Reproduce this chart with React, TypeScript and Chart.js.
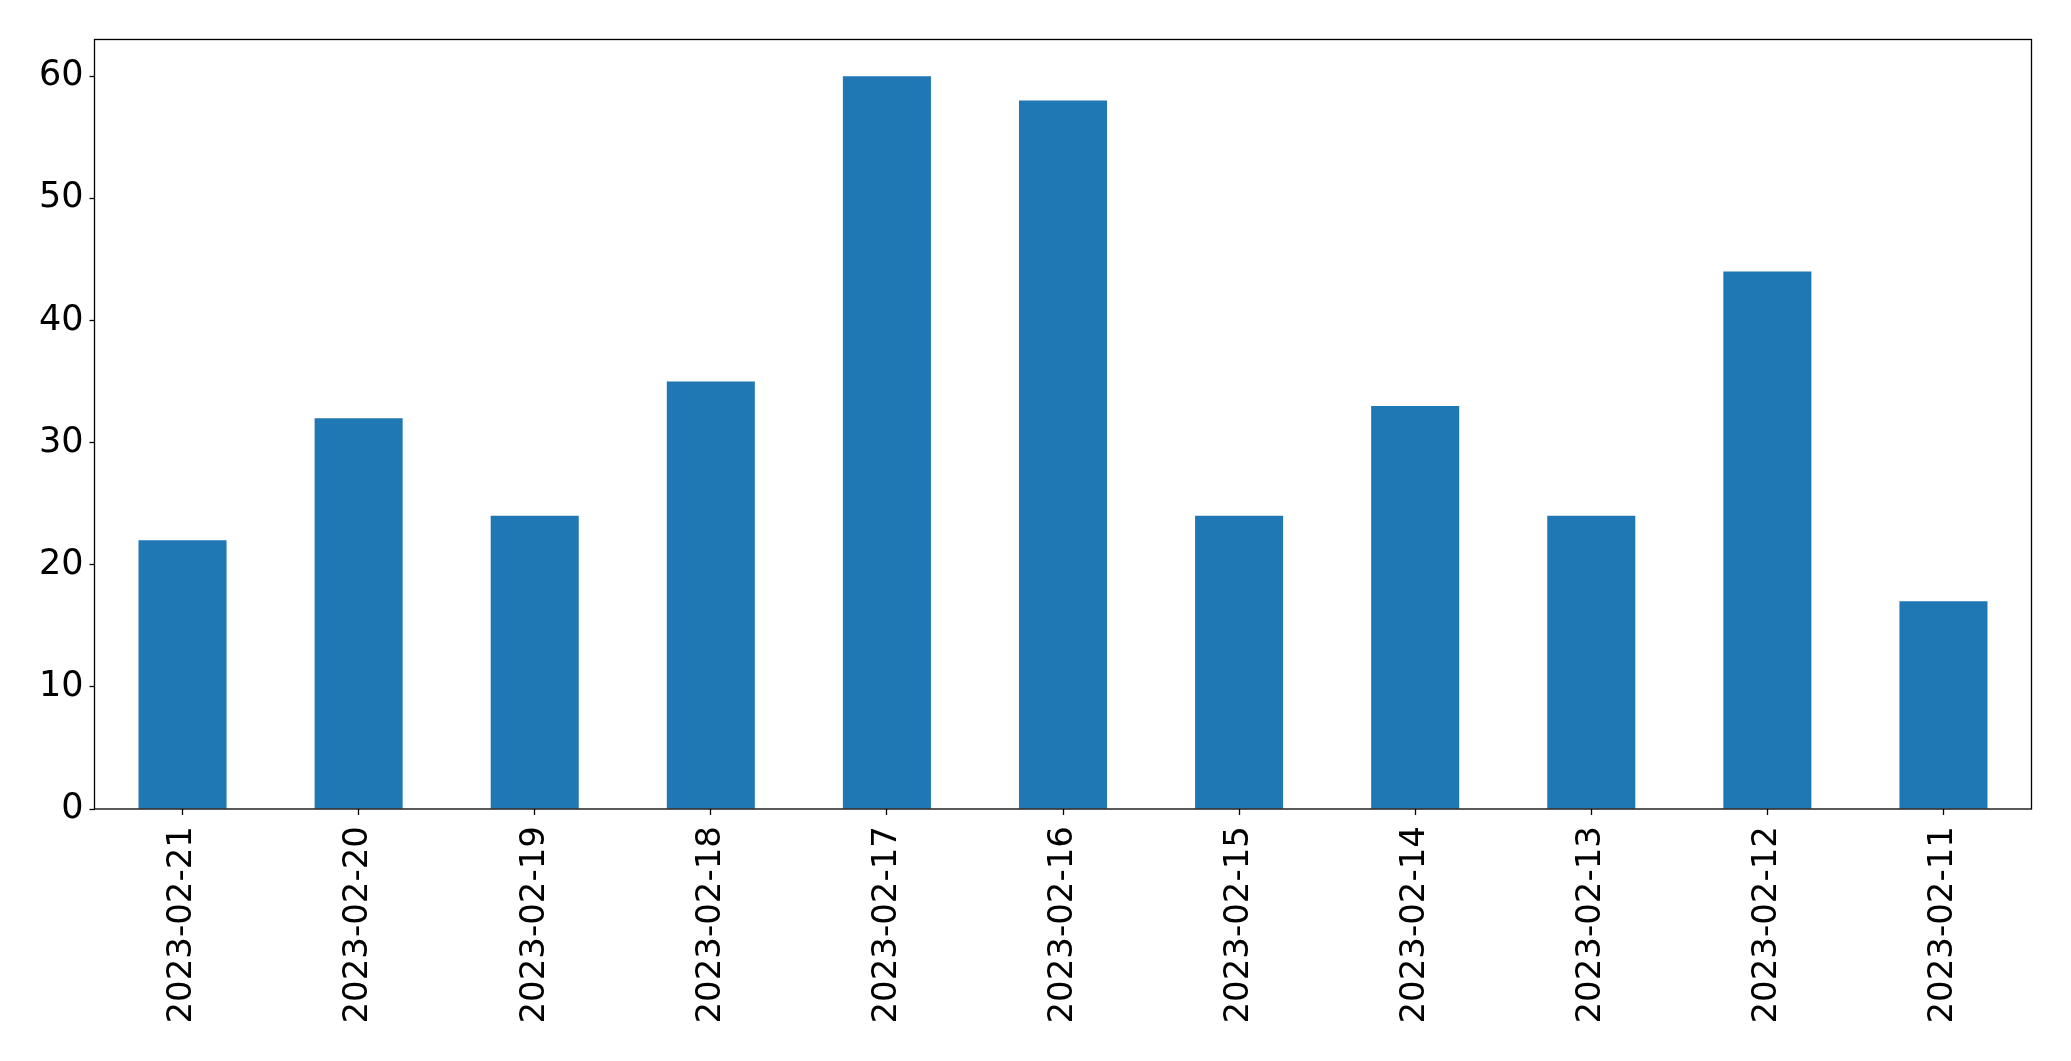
import React, { useEffect, useRef } from "react";
import { Chart, registerables } from "chart.js";

Chart.register(...registerables);

const categories = [
  "2023-02-21", "2023-02-20", "2023-02-19", "2023-02-18", "2023-02-17", "2023-02-16",
  "2023-02-15", "2023-02-14", "2023-02-13", "2023-02-12", "2023-02-11",
];
const values = [22, 32, 24, 35, 60, 58, 24, 33, 24, 44, 17];
const yTicks = [0, 10, 20, 30, 40, 50, 60];
const yMax = 63;

const W = 2071;
const H = 1061;

const frame = {
  id: "frame",
  afterDraw(chart: any) {
    const { ctx, chartArea } = chart;
    ctx.save();
    ctx.strokeStyle = "#000";
    ctx.lineWidth = 1.3;
    ctx.strokeRect(chartArea.left, chartArea.top, chartArea.right - chartArea.left, chartArea.bottom - chartArea.top);
    ctx.restore();
  },
};

export default function App() {
  const ref = useRef<HTMLCanvasElement>(null);
  useEffect(() => {
    document.body.style.margin = "0";
    const xFont = { family: "'DejaVu Sans', sans-serif", size: 34 };
    const yFont = { family: "'DejaVu Sans', sans-serif", size: 35 };
    const chart = new Chart(ref.current!, {
      type: "bar",
      data: {
        labels: categories,
        datasets: [
          {
            data: values,
            backgroundColor: "#1f77b4",
            borderWidth: 0,
            categoryPercentage: 1,
            barPercentage: 0.5,
          },
        ],
      },
      options: {
        animation: false,
        responsive: false,
        devicePixelRatio: 1,
        layout: { padding: { top: 39.5, right: 39.5, left: 0, bottom: 0 } },
        plugins: { legend: { display: false }, tooltip: { enabled: false } },
        scales: {
          x: {
            offset: true,
            grid: { display: true, drawOnChartArea: false, drawTicks: true, tickLength: 6, tickColor: "#000", tickWidth: 1.3, offset: false },
            border: { display: false },
            ticks: { color: "#000", font: xFont, minRotation: 90, maxRotation: 90, padding: 11, autoSkip: false },
            afterFit: (s: any) => { s.height = H - 809; },
          },
          y: {
            min: 0,
            max: yMax,
            grid: { display: true, drawOnChartArea: false, drawTicks: true, tickLength: 5, tickColor: "#000", tickWidth: 1.3 },
            border: { display: false },
            ticks: { color: "#000", font: yFont, padding: 6, stepSize: 10 },
            afterBuildTicks: (s: any) => { s.ticks = yTicks.map((v) => ({ value: v })); },
            afterFit: (s: any) => { s.width = 94.5; },
          },
        },
      },
      plugins: [frame],
    });
    return () => chart.destroy();
  }, []);
  return (
    <div style={{ width: W, height: H, background: "#fff" }}>
      <canvas ref={ref} width={W} height={H} style={{ display: "block", width: W, height: H }} />
    </div>
  );
}
